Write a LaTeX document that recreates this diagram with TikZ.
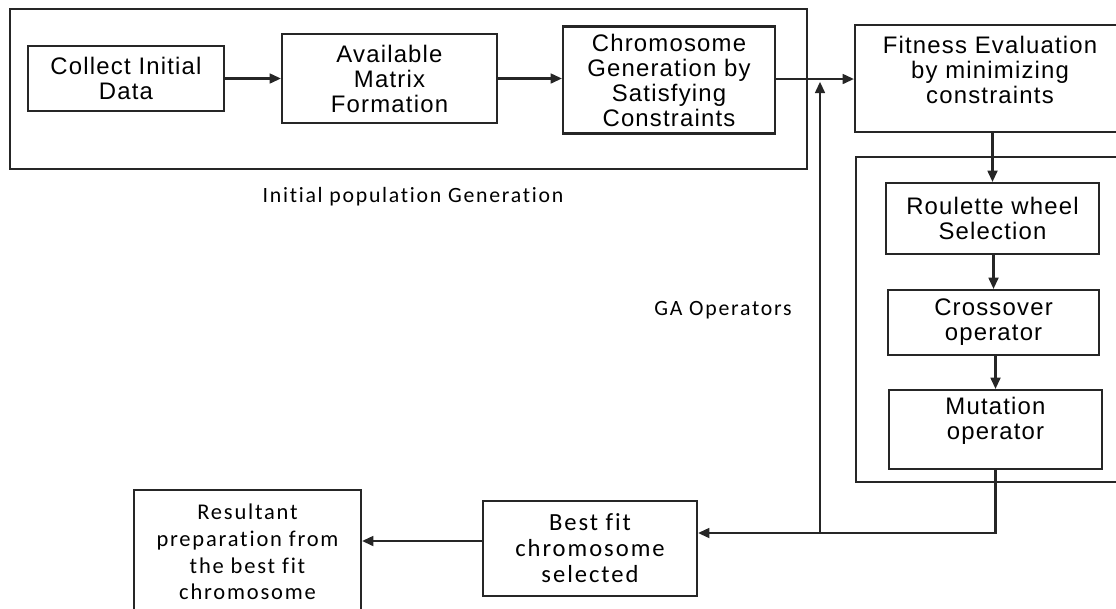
\documentclass[tikz,border=0pt]{standalone}
\usepackage{fontspec}
\setmainfont{Liberation Sans}
\newfontfamily\boxfont{Liberation Sans}[LetterSpace=5]
\newfontfamily\lblfont{Carlito}[LetterSpace=8, Ligatures=NoCommon]
\usetikzlibrary{arrows.meta}

\tikzset{
  box/.style={draw=black!85, line width=1.5pt, align=center, inner sep=0pt,
    font=\boxfont\fontsize{17}{17.8}\selectfont},
  cbox/.style={box, font=\lblfont\fontsize{16}{19}\selectfont},
  arr/.style={-{Triangle[length=8pt,width=7pt]}, line width=1.5pt, draw=black!85},
  lbl/.style={font=\lblfont\fontsize{15.5}{19}\selectfont},
  frame/.style={line width=1.5pt, draw=black!85}
}

\begin{document}
\begin{tikzpicture}[x=0.025cm, y=-0.025cm]
  \clip (0,0) rectangle (1116,608);

  % initial population generation
  \draw[frame] (10,9) rectangle (807,169);
  \node[box, minimum width=4.9cm, minimum height=1.625cm] (collect) at (126,78.5) {Collect Initial\\Data};
  \node[box, minimum width=5.375cm, minimum height=2.225cm] (matrix) at (389.5,78.5) {Available\\Matrix\\Formation};
  \node[box, minimum width=5.3cm, minimum height=2.675cm] (chrom) at (669,80) {Chromosome\\Generation by\\Satisfying\\Constraints};
  \node[lbl] (initlbl) at (413,197) {Initial population Generation};

  % fitness
  \node[box, minimum width=6.75cm, minimum height=2.675cm] (fitness) at (990,78.5) {};
  \node[align=center, font=\boxfont\fontsize{17}{17.8}\selectfont] (fittxt) at (990,70) {Fitness Evaluation\\by minimizing\\constraints};

  % GA operators
  \draw[frame] (856,157) rectangle (1140,482);
  \node[box, minimum width=5.325cm, minimum height=1.775cm] (roulette) at (992.5,218.5) {Roulette wheel\\Selection};
  \node[box, minimum width=5.275cm, minimum height=1.625cm] (cross) at (993.5,322.5) {Crossover\\operator};
  \node[box, minimum width=5.325cm, minimum height=1.975cm] (mutation) at (995.5,429.5) {};
  \node[align=center, font=\boxfont\fontsize{17}{17.8}\selectfont] (mutxt) at (995.5,421) {Mutation\\operator};
  \node[lbl] (galbl) at (723,310) {GA Operators};

  % result
  \node[cbox, minimum width=5.35cm, minimum height=2.375cm, font=\lblfont\fontsize{17.5}{18.5}\selectfont] (bestfit) at (590,548.5) {Best fit\\chromosome\\selected};
  \node[cbox, minimum width=5.675cm, minimum height=3.1cm] (result) at (247.5,552) {Resultant\\preparation from\\the best fit\\chromosome};

  \coordinate (join) at (820,79);
  \coordinate (back) at (820,533);

  \draw[arr] (collect) -- (matrix);
  \draw[arr] (matrix) -- (chrom.west |- matrix);
  \draw[arr] (chrom.east |- join) -- (fitness.west |- join);
  \draw[arr] (roulette.north |- fitness.south) -- (roulette.north);
  \draw[arr] (cross.north |- roulette.south) -- (cross.north);
  \draw[arr] (mutation.north |- cross.south) -- (mutation.north);
  \draw[arr] (mutation.south) |- (bestfit.east |- back);
  \draw[arr, shorten >=2pt] (back) -- (join);
  \draw[arr] (bestfit.west |- 0,541) -- (result.east |- 0,541);

\end{tikzpicture}
\end{document}
